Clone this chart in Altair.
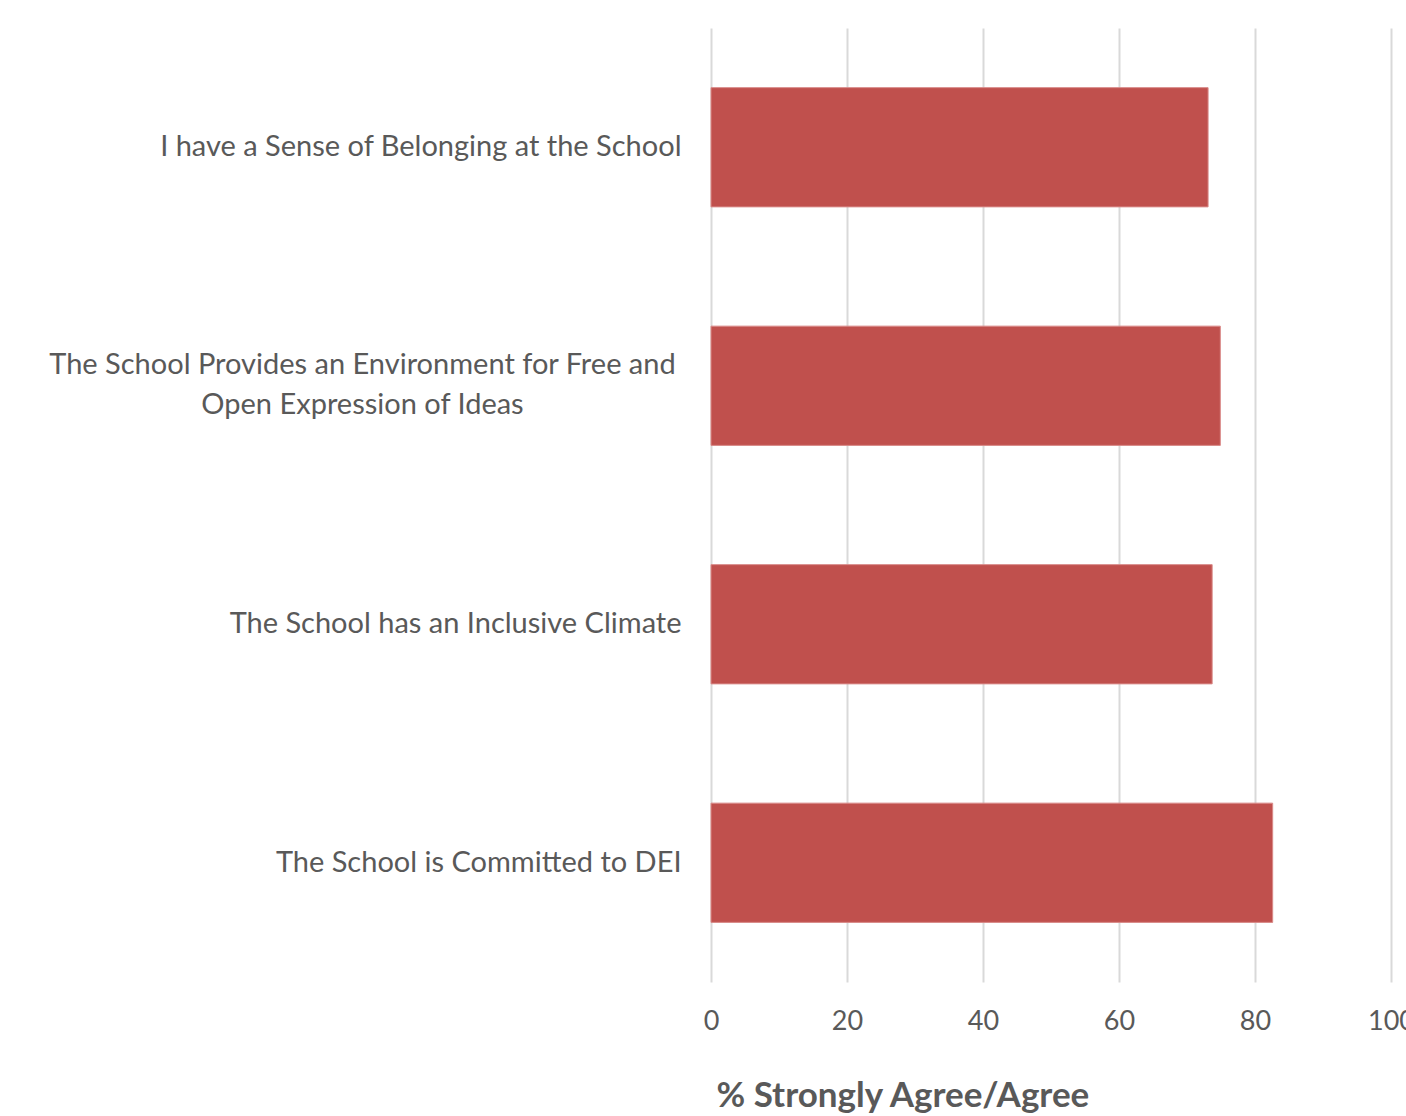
import altair as alt
import pandas as pd

statements = [
    "I have a Sense of Belonging at the School",
    "The School Provides an Environment for Free and\nOpen Expression of Ideas",
    "The School has an Inclusive Climate",
    "The School is Committed to DEI",
]
pct_agree = [73.1, 74.9, 73.7, 82.6]
x_ticks = [0, 20, 40, 60, 80, 100]

df = pd.DataFrame({"statement": statements, "pct": pct_agree})

FONT = "Lato"
TXT = "#595959"
MULTI = "indexof(datum.label, 'Open') >= 0"

chart = (
    alt.Chart(df)
    .mark_bar(color="#C0504D", stroke="#D98A88", strokeWidth=1)
    .encode(
        x=alt.X(
            "pct:Q",
            scale=alt.Scale(domain=[0, 100], nice=False),
            axis=alt.Axis(
                values=x_ticks,
                title="% Strongly Agree/Agree",
                titleFont=FONT,
                titleFontSize=35,
                titleFontWeight="bold",
                titleColor=TXT,
                titleAnchor="start",
                titleAlign="left",
                titleBaseline="alphabetic",
                titleX=5,
                titleY=124,
                labelFont=FONT,
                labelFontSize=27,
                labelColor=TXT,
                labelPadding=26,
                labelFlush=False,
                labelOverlap=False,
                domain=False,
                ticks=False,
                grid=True,
                gridColor="#D9D9D9",
                gridWidth=2,
            ),
        ),
        y=alt.Y(
            "statement:N",
            sort=None,
            scale=alt.Scale(paddingInner=0.5, paddingOuter=0.25),
            axis=alt.Axis(
                title=None,
                labelExpr="split(datum.label, '\\n')",
                labelFont=FONT,
                labelFontSize=29,
                labelColor=TXT,
                labelLineHeight=40,
                labelLimit=700,
                labelAlign={
                    "condition": {"test": MULTI, "value": "center"},
                    "value": "right",
                },
                labelPadding={
                    "condition": {"test": MULTI, "value": 349},
                    "value": 30,
                },
                labelOffset={
                    "condition": {"test": MULTI, "value": -21},
                    "value": 0,
                },
                domain=False,
                ticks=False,
                grid=False,
            ),
        ),
    )
    .properties(
        width=680,
        height=954,
        autosize=alt.AutoSizeParams(type="none"),
        padding={"left": 711, "top": 28, "right": 15, "bottom": 134},
        background="white",
    )
    .configure_view(stroke=None)
)

chart.save("out.html", embed_options={"renderer": "svg", "actions": False})
